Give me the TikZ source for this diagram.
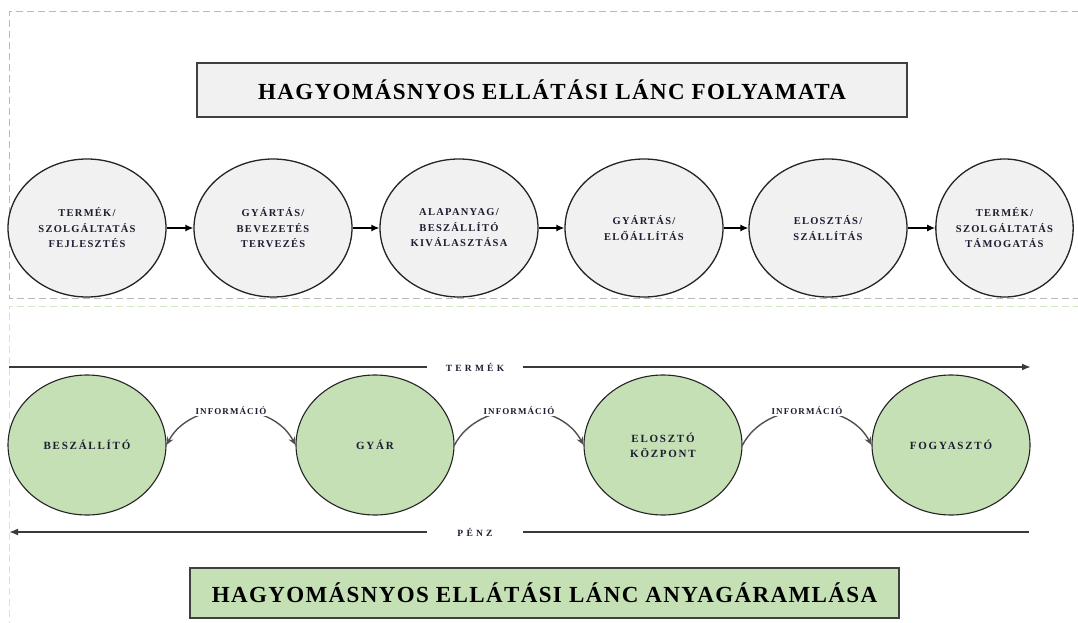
\documentclass[tikz,border=0pt]{standalone}
\usepackage{fontspec}
\setmainfont{Liberation Serif}
\usetikzlibrary{arrows.meta,shapes.geometric}

\definecolor{ink}{RGB}{28,28,50}
\definecolor{greyfill}{RGB}{241,241,241}
\definecolor{greenfill}{RGB}{197,224,180}
\definecolor{framegrey}{RGB}{185,185,185}
\definecolor{framegreen}{RGB}{210,230,192}
\definecolor{edge}{RGB}{36,36,36}
\definecolor{boxedge}{RGB}{64,64,64}
\definecolor{flowgrey}{RGB}{58,58,58}
\definecolor{infogrey}{RGB}{80,80,80}

\tikzset{infotip/.tip={Stealth[length=8pt,width=7pt]}}

\begin{document}
\begin{tikzpicture}[x=1pt,y=-1pt,
  stage/.style={ellipse, draw=edge, line width=1.3pt, fill=greyfill,
    minimum width=158pt, minimum height=138pt, inner sep=0pt, align=center, text=ink,
    font=\bfseries\fontsize{10.5}{15.5}\selectfont\addfontfeature{LetterSpace=12}},
  actor/.style={ellipse, draw=edge, line width=1.1pt, fill=greenfill,
    minimum width=158pt, minimum height=140pt, inner sep=0pt, align=center, text=ink,
    font=\bfseries\fontsize{11}{15}\selectfont\addfontfeature{LetterSpace=16}},
  titlebox/.style={draw=boxedge, line width=1.8pt, inner sep=0pt, text=black,
    font=\bfseries\fontsize{23}{27}\selectfont\addfontfeature{LetterSpace=6}},
  stagearrow/.style={draw=black, line width=1.3pt, -{Latex[length=8pt,width=7pt]}},
  flowlabel/.style={inner sep=0pt, minimum width=96pt, text=ink,
    font=\bfseries\fontsize{9.5}{10}\selectfont\addfontfeature{LetterSpace=34}},
  flowline/.style={draw=flowgrey, line width=1.8pt},
  infolabel/.style={fill=white, inner xsep=1pt, inner ysep=2pt, text=ink,
    font=\bfseries\fontsize{9}{10}\selectfont\addfontfeature{LetterSpace=12}},
  infoline/.style={draw=infogrey, line width=1.4pt}
]
\useasboundingbox (0,0) rectangle (1078,623);
\clip (0,0) rectangle (1078,623);

% dashed frames of the two panels
\draw[framegreen, line width=1pt, dash pattern=on 7pt off 4pt] (9,1200) -- (9,306) -- (1200,306);
\draw[framegrey, line width=1pt, dash pattern=on 7pt off 4pt] (1200,12) -- (9,12) -- (9,298) -- (1200,298);

% panel titles
\node[titlebox, fill=greyfill, minimum width=710pt, minimum height=54pt] (title1) at (552,90)
  {HAGYOMÁSNYOS ELLÁTÁSI LÁNC FOLYAMATA};
\node[titlebox, fill=greenfill, minimum width=709pt, minimum height=50pt] (title2) at (544.5,593)
  {HAGYOMÁSNYOS ELLÁTÁSI LÁNC ANYAGÁRAMLÁSA};

% process stages
\node[stage] (s1) at (87,228) {TERMÉK/\\SZOLGÁLTATÁS\\FEJLESZTÉS};
\node[stage] (s2) at (273,228) {GYÁRTÁS/\\BEVEZETÉS\\TERVEZÉS};
\node[stage] (s3) at (459,228) {ALAPANYAG/\\BESZÁLLÍTÓ\\KIVÁLASZTÁSA};
\node[stage] (s4) at (644,228) {GYÁRTÁS/\\ELŐÁLLÍTÁS};
\node[stage] (s5) at (828,228) {ELOSZTÁS/\\SZÁLLÍTÁS};
\node[stage, minimum width=137pt] (s6) at (1004.5,228) {TERMÉK/\\SZOLGÁLTATÁS\\TÁMOGATÁS};

\foreach \a/\b in {s1/s2,s2/s3,s3/s4,s4/s5,s5/s6}
  \draw[stagearrow] (\a.east) -- (\b.west);

% supply chain actors
\node[actor] (besz) at (87,445) {BESZÁLLÍTÓ};
\node[actor] (gyar) at (375,445) {GYÁR};
\node[actor] (eloszto) at (663,445) {ELOSZTÓ\\KÖZPONT};
\node[actor] (fogy) at (951,445) {FOGYASZTÓ};

% product flow (left to right) and money flow (right to left)
\coordinate (prodstart) at (9,367);
\coordinate (prodend) at (1031,367);
\node[flowlabel] (termek) at (475,367) {TERMÉK};
\draw[flowline] (prodstart) -- (termek.west);
\draw[flowline, -{Latex[length=9pt,width=7pt]}] (termek.east) -- (prodend);

\coordinate (moneystart) at (1029,532);
\coordinate (moneyend) at (9,532);
\node[flowlabel] (penz) at (475,532) {PÉNZ};
\draw[flowline] (moneystart) -- (penz.east);
\draw[flowline, -{Latex[length=9pt,width=7pt]}] (penz.west) -- (moneyend);

% information exchange between neighbouring actors
\draw[infoline, infotip-infotip] (besz.east) .. controls +(24,-46) and +(-24,-46) .. (gyar.west)
  node[infolabel, pos=0.5] (info1) {INFORMÁCIÓ};
\draw[infoline, -infotip] (gyar.east) .. controls +(24,-46) and +(-24,-46) .. (eloszto.west)
  node[infolabel, pos=0.5] (info2) {INFORMÁCIÓ};
\draw[infoline, -infotip] (eloszto.east) .. controls +(24,-46) and +(-24,-46) .. (fogy.west)
  node[infolabel, pos=0.5] (info3) {INFORMÁCIÓ};
\end{tikzpicture}
\end{document}
